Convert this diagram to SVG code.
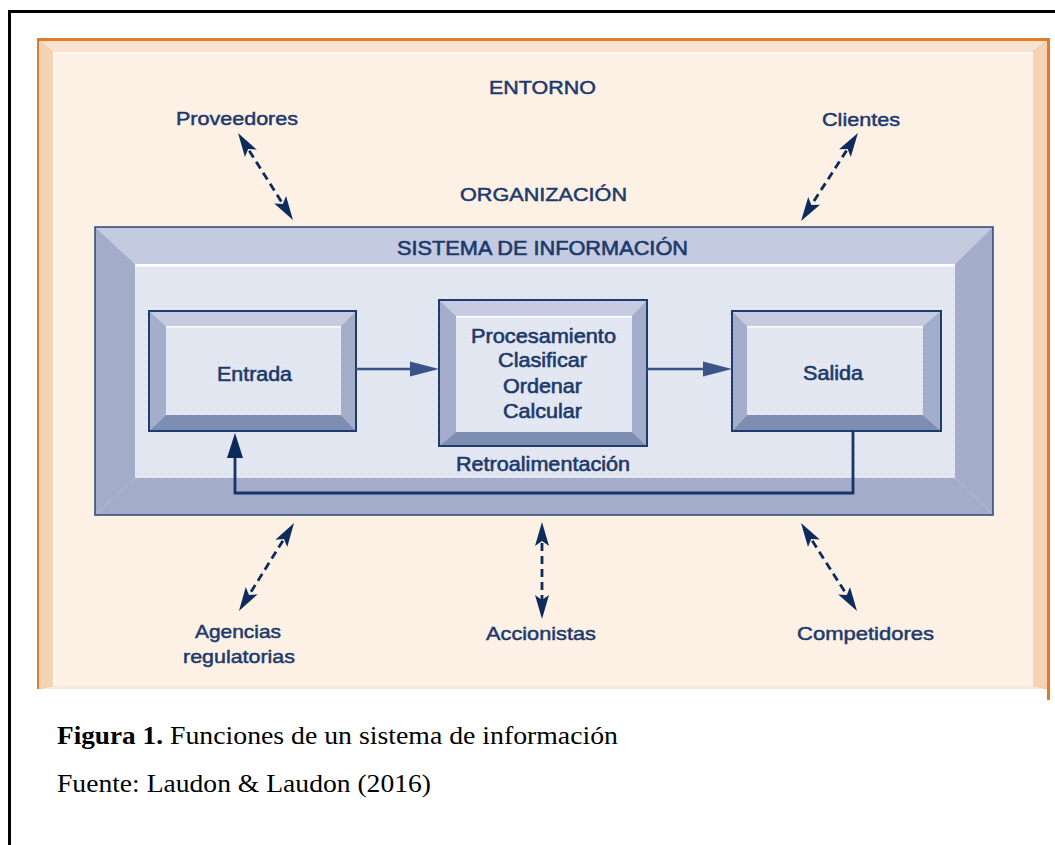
<svg xmlns="http://www.w3.org/2000/svg" width="1055" height="845" viewBox="0 0 1055 845">
<style>
.lbl{font-family:"Liberation Sans",Arial,sans-serif;font-size:19px;fill:#1d3a6c;stroke:#1d3a6c;stroke-width:0.5px}
.box{font-family:"Liberation Sans",Arial,sans-serif;font-size:20px;fill:#1d3a6c;stroke:#1d3a6c;stroke-width:0.6px}
.cap{font-family:"Liberation Serif","Times New Roman",serif;font-size:25px;fill:#000}
.dash{stroke:#0d2c5c;stroke-width:2.8;stroke-dasharray:8 5;fill:none}
.bt{fill:#c5cbe0}.bs{fill:#a4adca}.bb{fill:#7e8db2}
.nodeborder{fill:none;stroke:#1e3c6e;stroke-width:2}
</style>
<defs>
<pattern id="dots" width="8" height="8" patternUnits="userSpaceOnUse">
<rect width="8" height="8" fill="#e3e7f2"/>
<circle cx="2" cy="2" r="0.7" fill="#ccd3e5"/>
</pattern>
<marker id="ah" viewBox="0 0 24 14" refX="16" refY="7" markerWidth="24" markerHeight="14" markerUnits="userSpaceOnUse" orient="auto-start-reverse" style="overflow:visible">
<path d="M0,0 L24,7 L0,14 L5,7 z" fill="#0d2c5c"/>
</marker>
</defs>
<rect width="1055" height="845" fill="#fff"/>
<!-- black frame -->
<rect x="8" y="10" width="1047" height="3" fill="#000"/>
<rect x="8" y="10" width="3" height="835" fill="#000"/>
<!-- orange environment panel -->
<g id="entorno">
<rect x="37" y="38" width="1013" height="651" fill="#e07b2a"/>
<rect x="1047" y="686" width="3" height="14" fill="#e07b2a"/>
<polygon points="39,41 1047,41 1033,52 53,52" fill="#f9e2cf"/>
<polygon points="39,41 53,52 53,686 39,689" fill="#f6d3b6"/>
<polygon points="1047,41 1047,689 1033,686 1033,52" fill="#f6d3b6"/>
<polygon points="39,689 53,686 1033,686 1047,689" fill="#fbe7d6"/>
<rect x="53" y="52" width="980" height="634" fill="#fdf1e6"/>
<rect x="53" y="52" width="980" height="2" fill="#fffaf4"/>
<rect x="53" y="52" width="2" height="634" fill="#fffaf4"/>
<text class="lbl" x="489" y="94" textLength="107" lengthAdjust="spacingAndGlyphs">ENTORNO</text>
</g>
<g id="organizacion">
<text class="lbl" x="460" y="201" textLength="167" lengthAdjust="spacingAndGlyphs">ORGANIZACIÓN</text>
</g>
<!-- information system -->
<g id="sistema">
<polygon points="95,227 993,227 955,264 135,264" fill="#c4cadf"/>
<polygon points="95,227 135,264 135,478 95,515" fill="#a3acc9"/>
<polygon points="993,227 993,515 955,478 955,264" fill="#a3acc9"/>
<polygon points="95,515 135,478 955,478 993,515" fill="#a3acc9"/>
<rect x="135" y="264" width="820" height="214" fill="url(#dots)"/>
<rect x="135" y="264" width="820" height="2.5" fill="#ffffff"/>
<rect x="95" y="227" width="898" height="288" fill="none" stroke="#2a4673" stroke-width="1.5"/>
<text class="box" x="397" y="255" textLength="291" lengthAdjust="spacingAndGlyphs">SISTEMA DE INFORMACIÓN</text>
<text class="box" x="456" y="471" textLength="174" lengthAdjust="spacingAndGlyphs">Retroalimentación</text>
</g>
<g id="entrada">
<polygon class="bt" points="149,311 356,311 341,326 166,326"/>
<polygon class="bs" points="149,311 166,326 166,415 149,431"/>
<polygon class="bs" points="356,311 356,431 341,415 341,326"/>
<polygon class="bb" points="149,431 166,415 341,415 356,431"/>
<rect x="166" y="326" width="175" height="89" fill="url(#dots)"/>
<rect x="166" y="326" width="175" height="1.5" fill="#fff"/>
<rect class="nodeborder" x="149" y="311" width="207" height="120"/>
<text class="box" x="217" y="381" textLength="75" lengthAdjust="spacingAndGlyphs">Entrada</text>
</g>
<g id="procesamiento">
<polygon class="bt" points="439,300 647,300 632,316 456,316"/>
<polygon class="bs" points="439,300 456,316 456,432 439,446"/>
<polygon class="bs" points="647,300 647,446 632,432 632,316"/>
<polygon class="bb" points="439,446 456,432 632,432 647,446"/>
<rect x="456" y="316" width="176" height="116" fill="url(#dots)"/>
<rect x="456" y="316" width="176" height="1.5" fill="#fff"/>
<rect class="nodeborder" x="439" y="300" width="208" height="146"/>
<text class="box" x="471" y="343" textLength="145" lengthAdjust="spacingAndGlyphs">Procesamiento</text>
<text class="box" x="498" y="367" textLength="89" lengthAdjust="spacingAndGlyphs">Clasificar</text>
<text class="box" x="503" y="393" textLength="79" lengthAdjust="spacingAndGlyphs">Ordenar</text>
<text class="box" x="503" y="418" textLength="79" lengthAdjust="spacingAndGlyphs">Calcular</text>
</g>
<g id="salida">
<polygon class="bt" points="732,311 941,311 923,326 747,326"/>
<polygon class="bs" points="732,311 747,326 747,415 732,431"/>
<polygon class="bs" points="941,311 941,431 923,415 923,326"/>
<polygon class="bb" points="732,431 747,415 923,415 941,431"/>
<rect x="747" y="326" width="176" height="89" fill="url(#dots)"/>
<rect x="747" y="326" width="176" height="1.5" fill="#fff"/>
<rect class="nodeborder" x="732" y="311" width="209" height="120"/>
<text class="box" x="803" y="380" textLength="60" lengthAdjust="spacingAndGlyphs">Salida</text>
</g>
<g id="proveedores"><text class="lbl" x="176" y="125" textLength="122" lengthAdjust="spacingAndGlyphs">Proveedores</text></g>
<g id="clientes"><text class="lbl" x="822" y="126" textLength="78" lengthAdjust="spacingAndGlyphs">Clientes</text></g>
<g id="agencias"><text class="lbl" x="195" y="638" textLength="86" lengthAdjust="spacingAndGlyphs">Agencias</text>
<text class="lbl" x="183" y="663" textLength="112" lengthAdjust="spacingAndGlyphs">regulatorias</text></g>
<g id="accionistas"><text class="lbl" x="486" y="640" textLength="110" lengthAdjust="spacingAndGlyphs">Accionistas</text></g>
<g id="competidores"><text class="lbl" x="797" y="640" textLength="137" lengthAdjust="spacingAndGlyphs">Competidores</text></g>
<!-- connectors -->
<g id="connectors">
<line x1="356" y1="369" x2="412" y2="369" stroke="#3b5487" stroke-width="2.5"/>
<polygon points="410,361.5 439,369 410,376.5" fill="#3b5487"/>
<line x1="647" y1="369" x2="705" y2="369" stroke="#3b5487" stroke-width="2.5"/>
<polygon points="703,361.5 732,369 703,376.5" fill="#3b5487"/>
<polyline points="853,431 853,493 235,493 235,456" fill="none" stroke="#163569" stroke-width="2.8"/>
<polygon points="227,458 235,433 243,458" fill="#0b2a5a"/>
<line class="dash" x1="242.3" y1="139.8" x2="288.7" y2="213.2" marker-start="url(#ah)" marker-end="url(#ah)"/>
<line class="dash" x1="853.6" y1="139.7" x2="805.4" y2="214.3" marker-start="url(#ah)" marker-end="url(#ah)"/>
<line class="dash" x1="289.8" y1="529.8" x2="243.2" y2="604.2" marker-start="url(#ah)" marker-end="url(#ah)"/>
<line class="dash" x1="542" y1="530" x2="542" y2="611" marker-start="url(#ah)" marker-end="url(#ah)"/>
<line class="dash" x1="805.3" y1="529.8" x2="852.7" y2="604.2" marker-start="url(#ah)" marker-end="url(#ah)"/>
</g>
<!-- caption -->
<text class="cap" x="57" y="744" font-weight="bold" textLength="106" lengthAdjust="spacingAndGlyphs">Figura 1.</text>
<text class="cap" x="170" y="744" textLength="448" lengthAdjust="spacingAndGlyphs">Funciones de un sistema de información</text>
<text class="cap" x="57" y="792" textLength="374" lengthAdjust="spacingAndGlyphs">Fuente: Laudon &amp; Laudon (2016)</text>
</svg>
